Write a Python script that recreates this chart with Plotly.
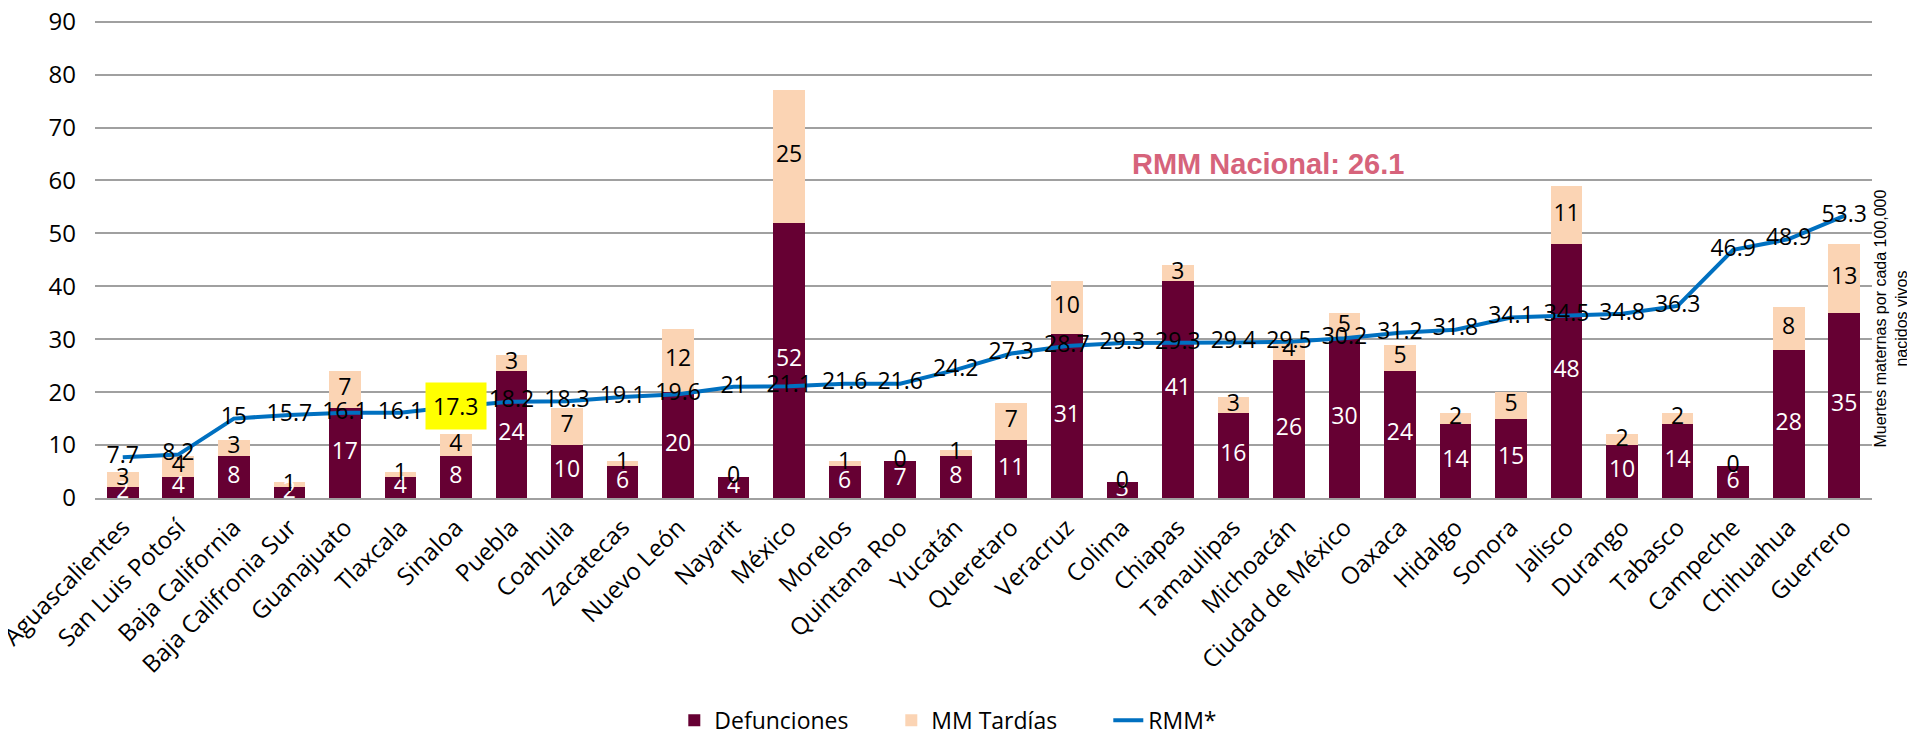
"""Mortalidad materna por entidad federativa: defunciones, MM tardías y RMM."""

import plotly.graph_objects as go

# Datos
estados = [
    "Aguascalientes", "San Luis Potosí", "Baja California", "Baja Califronia Sur",
    "Guanajuato", "Tlaxcala", "Sinaloa", "Puebla", "Coahuila", "Zacatecas",
    "Nuevo León", "Nayarit", "México", "Morelos", "Quintana Roo", "Yucatán",
    "Queretaro", "Veracruz", "Colima", "Chiapas", "Tamaulipas", "Michoacán",
    "Ciudad de México", "Oaxaca", "Hidalgo", "Sonora", "Jalisco", "Durango",
    "Tabasco", "Campeche", "Chihuahua", "Guerrero",
]
defunciones = [2, 4, 8, 2, 17, 4, 8, 24, 10, 6, 20, 4, 52, 6, 7, 8,
               11, 31, 3, 41, 16, 26, 30, 24, 14, 15, 48, 10, 14, 6, 28, 35]
mm_tardias = [3, 4, 3, 1, 7, 1, 4, 3, 7, 1, 12, 0, 25, 1, 0, 1,
              7, 10, 0, 3, 3, 4, 5, 5, 2, 5, 11, 2, 2, 0, 8, 13]
rmm = [7.7, 8.2, 15, 15.7, 16.1, 16.1, 17.3, 18.2, 18.3, 19.1, 19.6, 21,
       21.1, 21.6, 21.6, 24.2, 27.3, 28.7, 29.3, 29.3, 29.4, 29.5, 30.2,
       31.2, 31.8, 34.1, 34.5, 34.8, 36.3, 46.9, 48.9, 53.3]
rmm_nacional = 26.1
destacado = "Sinaloa"
y_ticks = list(range(0, 91, 10))

MARRON = "#660033"
DURAZNO = "#FBD4B4"
AZUL = "#0070C0"
ROSA = "#D6637B"
FONT = "'Open Sans', Lato, sans-serif"
ARIAL = "'Liberation Sans', Arial, sans-serif"

fig = go.Figure()

fig.add_trace(go.Bar(
    x=estados, y=defunciones, name="Defunciones",
    marker=dict(color=MARRON, line=dict(width=0)),
    hoverinfo="skip",
))
fig.add_trace(go.Bar(
    x=estados, y=mm_tardias, name="MM Tardías",
    marker=dict(color=DURAZNO, line=dict(width=0)),
    hoverinfo="skip",
))

# etiquetas de los segmentos, centradas en cada uno
fig.add_trace(go.Scatter(
    x=estados, y=[d / 2 for d in defunciones], mode="text",
    text=[str(d) for d in defunciones],
    textfont=dict(color="white", size=23, family=FONT),
    showlegend=False, hoverinfo="skip",
))
fig.add_trace(go.Scatter(
    x=estados, y=[d + t / 2 for d, t in zip(defunciones, mm_tardias)], mode="text",
    text=[str(t) for t in mm_tardias],
    textfont=dict(color="black", size=23, family=FONT),
    showlegend=False, hoverinfo="skip",
))

fig.add_trace(go.Scatter(
    x=estados, y=rmm, mode="lines", name="RMM*",
    line=dict(color=AZUL, width=4),
    hoverinfo="skip",
))
fig.add_trace(go.Scatter(
    x=estados, y=rmm, mode="text",
    text=["" if e == destacado else f"{v:g}" for e, v in zip(estados, rmm)],
    textposition="middle center",
    textfont=dict(color="black", size=23, family=FONT),
    showlegend=False, hoverinfo="skip", cliponaxis=False,
))

i_dest = estados.index(destacado)
annotations = [
    dict(
        x=destacado, y=rmm[i_dest], xref="x", yref="y",
        text=f"{rmm[i_dest]:g}", showarrow=False,
        bgcolor="#FFFF00", borderpad=7,
        font=dict(color="black", size=23, family=FONT),
    ),
    dict(
        x=0.66, y=0.735, xref="paper", yref="paper", xanchor="center",
        text=f"<b>RMM Nacional: {rmm_nacional}</b>", showarrow=False,
        font=dict(color=ROSA, size=29, family=ARIAL),
    ),
    dict(
        x=1.0105, y=0.374, xref="paper", yref="paper",
        xanchor="center", yanchor="middle",
        text="Muertes maternas por cada 100,000<br>nacidos vivos",
        textangle=-90, showarrow=False,
        font=dict(color="black", size=16, family=ARIAL),
    ),
]

# la página añade 8 px de margen, así que la figura se reduce en esa medida
fig.update_layout(
    barmode="stack",
    bargap=0.43,
    width=1907,
    height=723,
    paper_bgcolor="white",
    plot_bgcolor="white",
    font=dict(family=FONT, color="black"),
    margin=dict(l=87, r=43, t=10.5, b=233, autoexpand=False),
    xaxis=dict(
        range=[-0.5, len(estados) - 0.5],
        tickangle=-45,
        tickfont=dict(size=24, family=FONT, color="black"),
        showline=True, linecolor="#A0A0A0", linewidth=2,
        ticks="", ticklabelstandoff=4, automargin=False,
        ticklabeloverflow="allow",
    ),
    yaxis=dict(
        range=[0, 90.5],
        tickvals=y_ticks,
        tickfont=dict(size=24, family=FONT, color="black"),
        showgrid=True, gridcolor="#A0A0A0", gridwidth=2,
        zeroline=False, ticks="", ticklabelstandoff=18, automargin=False,
        ticklabeloverflow="allow",
    ),
    legend=dict(
        orientation="h",
        x=0.326, xanchor="left",
        y=-0.464, yanchor="middle",
        font=dict(size=23, family=FONT, color="black"),
        traceorder="normal",
        entrywidth=172, entrywidthmode="pixels",
    ),
    annotations=annotations,
)

fig.write_html("out.html")
